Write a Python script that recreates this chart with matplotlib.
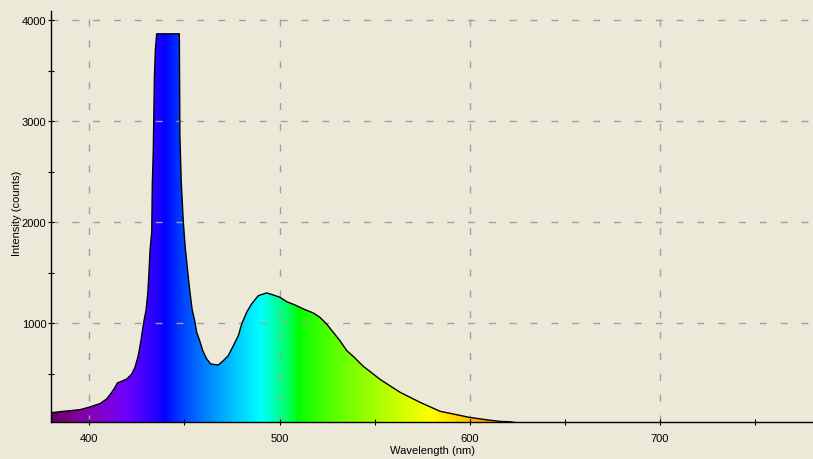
#! /usr/bin/python

"""
Emission spectrum plot (spectrometer style), colour filled by wavelength.
"""

import numpy as np
import matplotlib
matplotlib.use("Agg")
from matplotlib import pyplot as plt
from matplotlib.patches import PathPatch
from matplotlib.ticker import MultipleLocator

# wavelength (nm) and intensity (counts)
wavelength = [380.0, 384.6, 389.9, 395.1, 400.0, 405.6, 409.1, 411.8, 413.5,
              414.7, 417.0, 419.7, 422.3, 424.0, 425.7, 427.0, 427.9, 428.9,
              429.8, 430.7, 431.4, 431.9, 432.8, 433.1, 433.6, 434.2, 434.7,
              435.4, 447.3, 447.6, 448.3, 449.4, 450.4, 452.1, 452.9, 454.0,
              455.5, 456.4, 458.2, 459.6, 461.7, 463.8, 467.8, 470.4, 473.0,
              475.7, 478.3, 480.1, 482.7, 485.3, 488.8, 493.2, 496.7, 500.2,
              503.7, 508.1, 513.3, 517.7, 521.2, 524.7, 528.2, 531.7, 535.3,
              538.7, 544.0, 549.2, 552.8, 563.3, 573.8, 584.3, 591.3, 599.7,
              608.8, 615.8, 621.0, 622.8, 630.0, 780.0]
counts = [115, 125, 135, 145, 170, 205, 251, 317, 366,
          409, 426, 449, 498, 564, 679, 812, 927, 1043,
          1125, 1290, 1521, 1719, 1904, 2380, 2693, 3430, 3707,
          3864, 3864, 2857, 2400, 2000, 1750, 1440, 1307, 1141,
          1013, 914, 815, 729, 647, 597, 587, 630, 679,
          778, 877, 993, 1109, 1191, 1273, 1300, 1280, 1257,
          1214, 1181, 1135, 1102, 1059, 993, 911, 828, 729,
          673, 574, 498, 445, 317, 218, 129, 102, 69,
          45, 29, 25, 20, 5, 5]

BG = "#ECE9D8"


def wavelength_to_rgb(w, gamma=0.8):
    """Approximate visible colour of a wavelength (Bruton)."""
    if w < 440:
        r, g, b = -(w - 440) / 60, 0.0, 1.0
    elif w < 490:
        r, g, b = 0.0, (w - 440) / 50, 1.0
    elif w < 510:
        r, g, b = 0.0, 1.0, -(w - 510) / 20
    elif w < 580:
        r, g, b = (w - 510) / 70, 1.0, 0.0
    elif w < 645:
        r, g, b = 1.0, -(w - 645) / 65, 0.0
    else:
        r, g, b = 1.0, 0.0, 0.0
    if w < 420:
        f = 0.3 + 0.7 * (w - 380) / 40
    elif w > 700:
        f = 0.3 + 0.7 * (780 - w) / 80
    else:
        f = 1.0
    return [(c * f) ** gamma for c in (r, g, b)]


def main():
    plt.rcParams["font.family"] = "Liberation Sans"
    plt.rcParams["font.size"] = 8
    plt.rcParams["lines.scale_dashes"] = False

    fig = plt.figure(figsize=(8.13, 4.6), dpi=100, facecolor=BG)
    ax = fig.add_axes([0.0631, 0.0798, 0.9369, 0.8941], facecolor=BG)

    x = np.array(wavelength)
    y = np.array(counts)
    ymin, ymax = 20, 4090
    xmin, xmax = 380, 780.4

    # colour strip clipped to the area under the curve
    grid = np.linspace(xmin, xmax, 800)
    strip = np.array([wavelength_to_rgb(w) for w in grid])[np.newaxis, :, :]
    img = ax.imshow(strip, extent=(xmin, xmax, ymin, ymax), aspect="auto",
                    origin="lower", zorder=1, interpolation="bilinear")
    poly = ax.fill_between(x, y, ymin, facecolor="none", edgecolor="none")
    clip = PathPatch(poly.get_paths()[0], transform=ax.transData,
                     facecolor="none", edgecolor="none")
    ax.add_patch(clip)
    img.set_clip_path(clip)

    ax.plot(x, y, color="black", lw=1.0, zorder=3)

    ax.set_xlim(xmin, xmax)
    ax.set_ylim(ymin, ymax)

    ax.xaxis.set_major_locator(MultipleLocator(100))
    ax.xaxis.set_minor_locator(MultipleLocator(50))
    ax.yaxis.set_major_locator(MultipleLocator(1000))
    ax.yaxis.set_minor_locator(MultipleLocator(500))
    ax.tick_params(which="both", direction="inout", width=0.8, color="black",
                   length=5)
    ax.tick_params(axis="x", pad=5)
    ax.tick_params(axis="y", pad=1)

    ax.grid(True, which="major", color="#A0A0A0", lw=1.0,
            linestyle=(0, (5, 10)), zorder=2)

    for side in ("top", "right"):
        ax.spines[side].set_visible(False)
    for side in ("left", "bottom"):
        ax.spines[side].set_linewidth(1.0)
        ax.spines[side].set_zorder(4)

    ax.set_xlabel("Wavelength (nm)", labelpad=2)
    ax.set_ylabel("Intensity (counts)")
    ax.yaxis.set_label_coords(-0.0385, 0.51)

    fig.savefig("out.png", dpi=100, facecolor=BG)


if __name__ == "__main__":
    main()
